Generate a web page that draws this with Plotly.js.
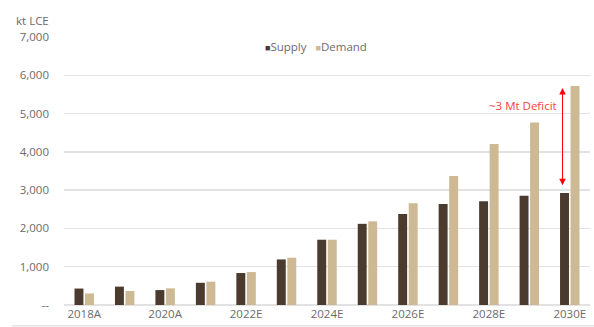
<!DOCTYPE html>
<html>
<head>
<meta charset="utf-8">
<script src="https://cdn.plot.ly/plotly-3.0.1.min.js"></script>
<style>html,body{margin:0;padding:0;background:#fff;}#chart{width:594px;height:327px;}</style>
</head>
<body>
<div id="chart"></div>
<script>
var years = ["2018A","2019A","2020A","2021A","2022E","2023E","2024E","2025E","2026E","2027E","2028E","2029E","2030E"];
var supply = [430, 480, 390, 580, 835, 1190, 1705, 2120, 2375, 2640, 2710, 2855, 2925];
var demand = [300, 365, 435, 610, 860, 1235, 1705, 2185, 2655, 3370, 4205, 4770, 5720];
var xTickLabels = ["2018A","2020A","2022E","2024E","2026E","2028E","2030E"];
var yTickVals = [0, 1000, 2000, 3000, 4000, 5000, 6000, 7000];
var yTickText = ["--", "1,000", "2,000", "3,000", "4,000", "5,000", "6,000", "7,000"];
var seriesNames = ["Supply", "Demand"];
var seriesColors = ["#4b3a2e", "#cdb993"];

var font = "Open Sans, sans-serif";
var traces = [
  {type:"bar", name:seriesNames[0], x:years, y:supply, marker:{color:seriesColors[0]}},
  {type:"bar", name:seriesNames[1], x:years, y:demand, marker:{color:seriesColors[1]}}
];
var legendText = seriesNames.map(function(n, i){
  return "<span style='color:" + seriesColors[i] + ";font-size:9px'>■</span>" + n;
}).join("&nbsp;&nbsp;&nbsp;");
var layout = {
  width:594, height:327,
  margin:{l:64, r:4, t:37, b:22},
  paper_bgcolor:"#fff", plot_bgcolor:"#fff",
  font:{family:font, size:12, color:"#6b6b6b"},
  barmode:"group", bargap:0.48, bargroupgap:0.15,
  showlegend:false,
  xaxis:{type:"category", tickvals:xTickLabels, ticktext:xTickLabels, showgrid:false,
         showline:false, ticks:"", tickfont:{size:11.5, color:"#6b6b6b"}, range:[-0.5,12.5], fixedrange:true},
  yaxis:{range:[0,7000], tickvals:yTickVals, ticktext:yTickText, showgrid:true, gridcolor:"#e2e2e2",
         gridwidth:1.5, zeroline:true, zerolinecolor:"#e2e2e2", zerolinewidth:1.5, showline:false,
         ticks:"", ticklabelstandoff:14, tickfont:{size:11.5, color:"#6b6b6b"}, fixedrange:true},
  shapes:[
    {type:"line", xref:"paper", yref:"paper", x0:-0.099, x1:1.01, y0:-0.078, y1:-0.078,
     line:{color:"#d6d6d6", width:1}}
  ],
  annotations:[
    {xref:"paper", yref:"paper", x:-0.059, y:1.063, xanchor:"center", yanchor:"middle",
     text:"kt LCE", showarrow:false, font:{size:11.5, color:"#6b6b6b"}},
    {xref:"paper", yref:"paper", x:0.479, y:0.966, xanchor:"center", yanchor:"middle",
     text:legendText, showarrow:false, font:{size:11.5, color:"#6b6b6b"}},
    {xref:"x", yref:"y", x:11.82, y:5670, axref:"x", ayref:"y", ax:11.82, ay:3130,
     showarrow:true, arrowhead:2, arrowsize:1.3, arrowwidth:1, arrowcolor:"#ff0000", text:""},
    {xref:"x", yref:"y", x:11.82, y:3130, axref:"x", ayref:"y", ax:11.82, ay:5670,
     showarrow:true, arrowhead:2, arrowsize:1.3, arrowwidth:1, arrowcolor:"#ff0000", text:""},
    {xref:"x", yref:"y", x:11.74, y:5220, xanchor:"right", yanchor:"middle", showarrow:false,
     text:"~3 Mt Deficit", font:{size:11.5, color:"#ff3b3b"}}
  ]
};
Plotly.newPlot("chart", traces, layout, {displayModeBar:false, staticPlot:true});
</script>
</body>
</html>
